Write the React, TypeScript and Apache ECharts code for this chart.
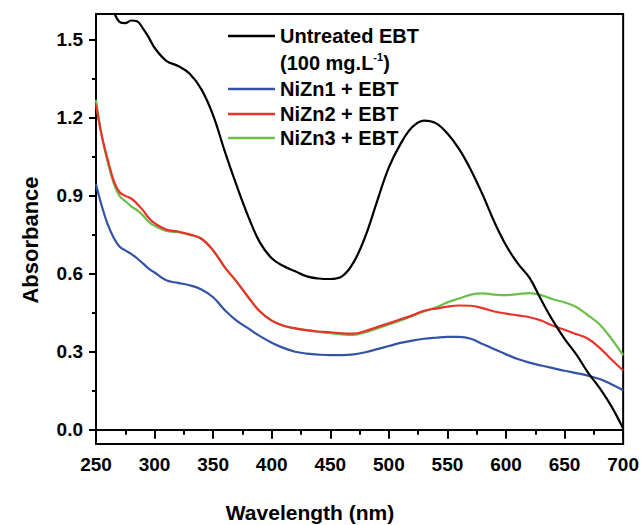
import React, { useEffect, useRef } from "react";
import * as echarts from "echarts";

const wavelengths = [250, 255, 260, 265, 270, 275, 280, 285, 290, 295, 300, 310, 320, 330, 340, 350, 360, 370, 380, 390, 400, 410, 420, 430, 440, 450, 460, 470, 480, 490, 500, 510, 520, 530, 540, 550, 560, 570, 580, 590, 600, 610, 620, 630, 640, 650, 660, 670, 680, 690, 700];

const untreated = [1.78, 1.72, 1.66, 1.61, 1.57, 1.565, 1.575, 1.572, 1.545, 1.51, 1.47, 1.42, 1.40, 1.37, 1.31, 1.21, 1.07, 0.94, 0.82, 0.72, 0.66, 0.63, 0.61, 0.59, 0.582, 0.58, 0.59, 0.645, 0.745, 0.88, 1.01, 1.10, 1.165, 1.19, 1.18, 1.14, 1.08, 1.00, 0.905, 0.80, 0.71, 0.64, 0.585, 0.50, 0.42, 0.35, 0.29, 0.22, 0.16, 0.09, 0.005];

const nizn1 = [0.945, 0.86, 0.79, 0.74, 0.705, 0.69, 0.677, 0.66, 0.64, 0.62, 0.605, 0.575, 0.565, 0.556, 0.54, 0.51, 0.46, 0.42, 0.39, 0.36, 0.335, 0.315, 0.30, 0.293, 0.289, 0.287, 0.287, 0.29, 0.298, 0.31, 0.322, 0.334, 0.343, 0.35, 0.354, 0.357, 0.357, 0.35, 0.33, 0.31, 0.29, 0.272, 0.258, 0.247, 0.237, 0.227, 0.218, 0.208, 0.195, 0.175, 0.152];

const nizn2 = [1.25, 1.13, 1.04, 0.96, 0.915, 0.90, 0.89, 0.87, 0.845, 0.815, 0.795, 0.77, 0.763, 0.752, 0.735, 0.69, 0.625, 0.57, 0.51, 0.455, 0.42, 0.40, 0.39, 0.383, 0.378, 0.375, 0.371, 0.37, 0.38, 0.395, 0.41, 0.425, 0.44, 0.458, 0.466, 0.474, 0.478, 0.477, 0.468, 0.455, 0.447, 0.44, 0.433, 0.42, 0.40, 0.385, 0.368, 0.35, 0.315, 0.27, 0.228];

const nizn3 = [1.27, 1.13, 1.03, 0.95, 0.90, 0.88, 0.86, 0.845, 0.825, 0.80, 0.785, 0.765, 0.76, 0.75, 0.735, 0.69, 0.625, 0.57, 0.51, 0.455, 0.42, 0.40, 0.39, 0.382, 0.376, 0.372, 0.367, 0.365, 0.375, 0.39, 0.405, 0.42, 0.438, 0.455, 0.47, 0.49, 0.505, 0.52, 0.525, 0.52, 0.518, 0.522, 0.526, 0.518, 0.502, 0.49, 0.472, 0.44, 0.405, 0.35, 0.286];

const yMajorTicks = [0, 0.3, 0.6, 0.9, 1.2, 1.5];
const yMinorTicks = [0.15, 0.45, 0.75, 1.05, 1.35];

const seriesNames = ["Untreated EBT", "NiZn1 + EBT", "NiZn2 + EBT", "NiZn3 + EBT"];
const seriesColors = ["#000000", "#3353a6", "#e8322b", "#6cbf4b"];

const FONT = "'Liberation Sans', Arial, sans-serif";

export default function App() {
  const ref = useRef<HTMLDivElement>(null);
  useEffect(() => {
    document.body.style.margin = "0";
    if (!ref.current) return;
    const chart = echarts.init(ref.current, undefined, { renderer: "svg" });
    const pairs = (ys: number[]) => wavelengths.map((x, i) => [x, ys[i]]);
    const dataSets = [untreated, nizn1, nizn2, nizn3];
    const order = [3, 2, 1, 0];
    const series = order.map((k) => ({
      name: seriesNames[k],
      type: "line",
      data: pairs(dataSets[k]),
      smooth: 0.4,
      showSymbol: false,
      clip: true,
      lineStyle: { color: seriesColors[k], width: 2.2 },
      z: 2 + (3 - k),
    }));

    const legendX1 = 228;
    const legendX2 = 275;
    const textX = 280;
    const rows = [
      { y: 36, idx: 0 },
      { y: 89, idx: 1 },
      { y: 114, idx: 2 },
      { y: 138, idx: 3 },
    ];
    const legendGraphics: any[] = [];
    rows.forEach((r) => {
      legendGraphics.push({
        type: "line",
        shape: { x1: legendX1, y1: r.y, x2: legendX2, y2: r.y },
        style: { stroke: seriesColors[r.idx], lineWidth: 2.5 },
        z: 10,
      });
      legendGraphics.push({
        type: "text",
        x: textX,
        y: r.y,
        style: {
          text: seriesNames[r.idx],
          font: `bold 20px ${FONT}`,
          fill: "#000",
          verticalAlign: "middle",
        },
        z: 10,
      });
    });
    legendGraphics.push({
      type: "text",
      x: textX,
      y: 63,
      style: {
        text: "(100 mg.L{sup|-1})",
        font: `bold 20px ${FONT}`,
        fill: "#000",
        verticalAlign: "middle",
        rich: {
          sup: { fontSize: 11, fontWeight: "bold", fontFamily: FONT, fill: "#000", verticalAlign: "top", padding: [0, 0, 12, 0] },
        },
      },
      z: 10,
    });

    chart.setOption({
      animation: false,
      backgroundColor: "#fff",
      grid: {
        left: 96,
        right: 18,
        top: 14,
        bottom: 81,
        show: true,
        borderColor: "#000",
        borderWidth: 2,
        backgroundColor: "transparent",
      },
      xAxis: {
        type: "value",
        min: 250,
        max: 700,
        interval: 50,
        axisLine: { show: true, lineStyle: { color: "#000", width: 2 } },
        axisTick: { show: true, length: 9, lineStyle: { color: "#000", width: 2 } },
        minorTick: { show: true, splitNumber: 2, length: 5, lineStyle: { color: "#000", width: 2 } },
        splitLine: { show: false },
        axisLabel: { color: "#000", fontSize: 19, fontWeight: "bold", fontFamily: FONT, margin: 11 },
      },
      yAxis: [
        {
          type: "value",
          min: -0.055,
          max: 1.6,
          axisLine: { show: true, lineStyle: { color: "#000", width: 2 } },
          axisTick: { show: true, length: 7, customValues: yMajorTicks, lineStyle: { color: "#000", width: 2 } },
          splitLine: { show: false },
          axisLabel: {
            customValues: yMajorTicks,
            color: "#000",
            fontSize: 19,
            fontWeight: "bold",
            fontFamily: FONT,
            margin: 13,
            formatter: (v: number) => v.toFixed(1),
          },
        },
        {
          type: "value",
          position: "left",
          min: -0.055,
          max: 1.6,
          axisLine: { show: false },
          axisTick: { show: true, length: 4, customValues: yMinorTicks, lineStyle: { color: "#000", width: 2 } },
          splitLine: { show: false },
          axisLabel: { show: false },
        },
      ],
      series,
      graphic: [
        ...legendGraphics,
        {
          type: "text",
          x: 310,
          y: 512,
          style: {
            text: "Wavelength (nm)",
            font: `bold 21px ${FONT}`,
            fill: "#000",
            align: "center",
            verticalAlign: "middle",
          },
        },
        {
          type: "text",
          x: 30,
          y: 240,
          rotation: Math.PI / 2,
          style: {
            text: "Absorbance",
            font: `bold 22px ${FONT}`,
            fill: "#000",
            align: "center",
            verticalAlign: "middle",
          },
        },
      ],
    });
    return () => chart.dispose();
  }, []);
  return <div ref={ref} style={{ width: 642, height: 525 }} />;
}
